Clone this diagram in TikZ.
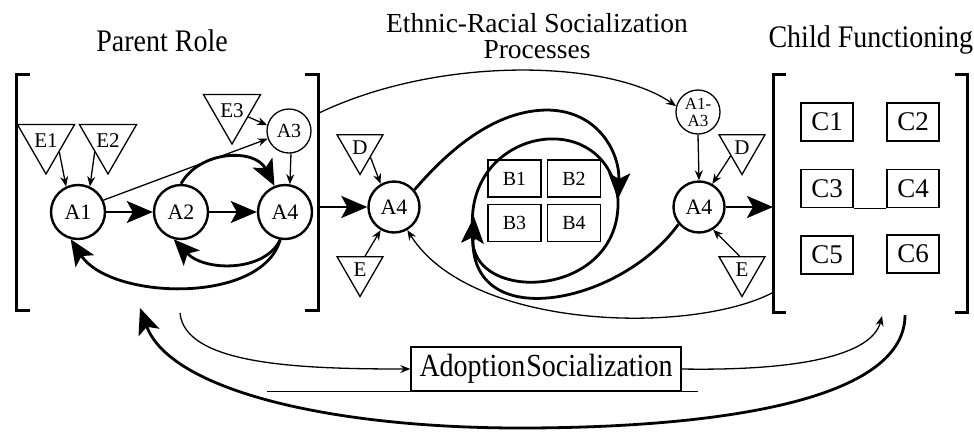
\documentclass[tikz,border=0pt]{standalone}
\usepackage{fontspec}
\setmainfont{Liberation Serif}
\usetikzlibrary{arrows.meta,shapes.geometric,calc}
\begin{document}
\begin{tikzpicture}[x=1pt,y=-1pt,
 thk/.style={line width=2.8pt},
 thn/.style={line width=1.3pt},
 bigarr/.style={thk,-{Stealth[length=26pt,width=22pt,inset=6pt]}},
 smarr/.style={thn,-{Stealth[length=10pt,width=8pt]}},
 anode/.style={circle,draw,line width=2.4pt,minimum size=54pt,inner sep=0pt,font=\fontsize{22}{22}\selectfont},
 snode/.style={circle,draw,line width=1.3pt,minimum size=44pt,inner sep=0pt,font=\fontsize{20}{20}\selectfont},
 tri/.style={regular polygon,regular polygon sides=3,shape border rotate=180,draw,line width=1.3pt,minimum size=53pt,inner sep=0pt,font=\fontsize{21}{21}\selectfont},
 bbox/.style={rectangle,draw,line width=1.4pt,minimum width=53pt,minimum height=37pt,inner sep=0pt,font=\fontsize{20}{20}\selectfont},
 cbox/.style={rectangle,draw,line width=1.4pt,minimum width=52pt,minimum height=38pt,inner sep=0pt,font=\fontsize{27}{27}\selectfont},
 title/.style={font=\fontsize{28}{28}\selectfont,anchor=base},
 brk/.style={line width=3pt}
]
\useasboundingbox (0,0) rectangle (974,440);

% titles
\node[title] (t1) at (162,51) {\scalebox{1}[1.12]{Parent Role}};
\node[title,font=\fontsize{27.5}{27.5}\selectfont] (t2) at (537,32) {Ethnic-Racial Socialization};
\node[title,font=\fontsize{27.5}{27.5}\selectfont] (t3) at (537,58) {Processes};
\node[title,anchor=base west] (t4) at (765,47) {\scalebox{1}[1.12]{Child Functioning}};

% brackets
\draw[brk] (30,74) -- (16,74) -- (16,310) -- (30,310);
\draw[brk] (305,74) -- (318,74) -- (318,310) -- (305,310);
\draw[brk] (786,74) -- (773,74) -- (773,312) -- (786,312);
\draw[brk] (955,74) -- (967,74) -- (967,312) -- (955,312);

% parent role
\node[anode] (a1) at (78,212) {A1};
\node[anode] (a2) at (181,212) {A2};
\node[anode] (a4a) at (285,212) {A4};
\node[snode] (a3) at (289,131) {A3};
\node[tri] (e1) at (46,141) {E1};
\node[tri] (e2) at (108,141) {E2};
\node[tri] (e3) at (232,111) {E3};

\draw[smarr] (e1.-40) -- (a1.115);
\draw[smarr] (e2.-140) -- (a1.65);
\draw[smarr] (e3.-20) -- (a3.165);
\draw[smarr] (a1.25) -- (a3.-160);
\draw[smarr] (a3.-85) -- (a4a.80);
\draw[bigarr] (a1) -- (a2);
\draw[bigarr] (a2) -- (a4a);
\draw[bigarr] (a2.north) .. controls (200,150) and (255,148) .. (a4a.112);
\draw[bigarr] (a4a.-100) .. controls (265,272) and (205,272) .. (a2.-105);
\draw[bigarr] (a4a.-100) .. controls (262,305) and (110,300) .. (a1.-105);

% middle
\node[anode,minimum size=51pt] (a4m) at (394,207) {A4};
\node[tri] (d1) at (360,148) {D};
\node[tri] (ee1) at (360,270) {E};
\node[bbox] (b1) at (514.5,178.5) {B1};
\node[bbox] (b2) at (574,178.5) {B2};
\node[bbox] (b3) at (514.5,223) {B3};
\node[bbox] (b4) at (574,223) {B4};
\node[anode,minimum size=51pt] (a4r) at (699,207) {A4};
\node[snode,align=center,font=\fontsize{17}{17}\selectfont] (a13) at (698,112) {A1-\\A3};
\node[tri] (d2) at (742,148) {D};
\node[tri] (ee2) at (742,270) {E};

\coordinate (lbr) at (318,207);
\coordinate (rbr) at (773,207);
\coordinate (tstart) at (319,113);
\coordinate (rstart) at (772,293);
\coordinate (lt) at (474,217);
\coordinate (rt) at (618,199);
\coordinate (ls) at (474,240);

\draw[bigarr] (lbr) -- (a4m);
\draw[smarr] (d1.-42) -- (a4m.120);
\draw[smarr] (ee1.70) -- (a4m.-120);
\draw[smarr] (a13.south) -- (a4r.north);
\draw[smarr] (d2.-145) -- (a4r.60);
\draw[smarr] (ee2.100) -- (a4r.-58);
\draw[bigarr] (a4r) -- (rbr);

\draw[smarr] (tstart) .. controls (440,55) and (610,60) .. (a13.165);
\draw[smarr] (rstart) .. controls (690,335) and (470,330) .. (a4m.-60);

\draw[bigarr] (a4m.40) .. controls (470,125) and (515,110) .. (548,110) .. controls (600,111) and (620,155) .. (rt);
\draw[thk] (ls) .. controls (455,130) and (605,100) .. (rt);
\draw[bigarr] (rt) .. controls (622,300) and (468,305) .. (lt);
\draw[bigarr] (a4r.-140) .. controls (620,305) and (468,335) .. (lt);

% child functioning
\node[cbox] (c1) at (827,122) {C1};
\node[cbox] (c2) at (913,122) {C2};
\node[cbox] (c3) at (827,188.5) {C3};
\node[cbox] (c4) at (913,188.5) {C4};
\node[cbox] (c5) at (827,255) {C5};
\node[cbox] (c6) at (913,254) {C6};
\draw[thn] (c3.south east) -- (c4.south west);

% adoption socialization
\node[draw,line width=1.4pt,minimum width=270pt,minimum height=44pt,inner sep=0pt,font=\fontsize{28}{28}\selectfont] (adopt) at (546,369) {\scalebox{1}[1.15]{Adoption\hspace{1pt}Socialization}};
\draw[thn] ($(adopt.south west)+(-143,0)$) -- ($(adopt.south east)+(16,0)$);

\coordinate (bl) at (180,313);
\coordinate (br) at (882,316);
\coordinate (bs) at (905,315);
\coordinate (be) at (140,308);
\draw[smarr] (bl) .. controls (185,365) and (300,369) .. (adopt.west);
\draw[smarr] (adopt.east) .. controls (800,371) and (872,355) .. (br);
\draw[bigarr] (bs) .. controls (905,405) and (700,428) .. (520,428) .. controls (330,428) and (170,390) .. (be);
\end{tikzpicture}
\end{document}
